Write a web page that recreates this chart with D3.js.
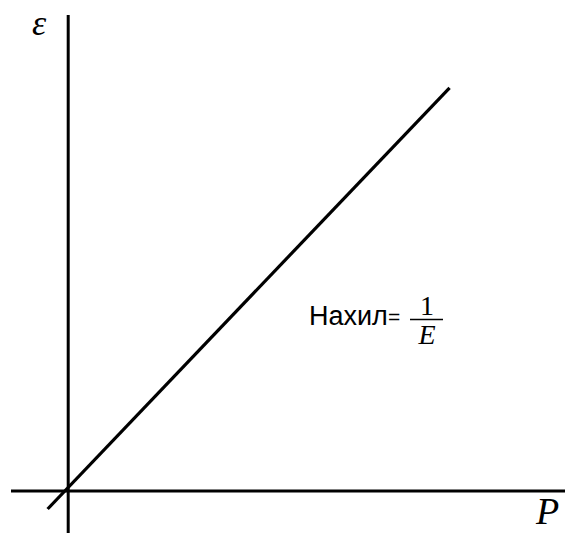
<!DOCTYPE html>
<html>
<head>
<meta charset="utf-8">
<script src="https://cdn.jsdelivr.net/npm/d3@7"></script>
<style>
  html, body { margin: 0; padding: 0; background: #fff; }
  svg { display: block; }
</style>
</head>
<body>
<script>
// Stress–strain relation: strain ε grows linearly with load P, slope 1/E
const lineP = [-0.54, 10.0];
const lineEps = [-0.45, 10.08];
const xAxisSpan = [-1.5, 13];
const yAxisSpan = [-1.05, 11.9];
const axisLabels = { x: "P", y: "ε" };
const slopeWord = "Нахил";
const slopeNum = "1";
const slopeDen = "E";

const W = 565, H = 533;
const svg = d3.select("body").append("svg").attr("width", W).attr("height", H);

const x = d3.scaleLinear().domain(xAxisSpan).range([11, 564]);
const y = d3.scaleLinear().domain(yAxisSpan).range([533, 15]);

// axes through the origin
svg.append("line")
  .attr("x1", x(xAxisSpan[0])).attr("x2", x(xAxisSpan[1]) + 2)
  .attr("y1", y(0)).attr("y2", y(0))
  .attr("stroke", "#000").attr("stroke-width", 3);
svg.append("line")
  .attr("x1", x(0)).attr("x2", x(0))
  .attr("y1", y(yAxisSpan[0])).attr("y2", y(yAxisSpan[1]))
  .attr("stroke", "#000").attr("stroke-width", 3);

// straight line
const pts = lineP.map((p, i) => [p, lineEps[i]]);
svg.append("path")
  .datum(pts)
  .attr("d", d3.line().x(d => x(d[0])).y(d => y(d[1])))
  .attr("fill", "none").attr("stroke", "#000").attr("stroke-width", 3.2);

// axis names
svg.append("text").attr("x", 32).attr("y", 35)
  .attr("font-family", "Liberation Serif, serif").attr("font-style", "italic")
  .attr("font-size", 36).text(axisLabels.y);
svg.append("text").attr("x", 536).attr("y", 524)
  .attr("font-family", "Liberation Serif, serif").attr("font-style", "italic")
  .attr("font-size", 38).text(axisLabels.x);

// slope annotation
const g = svg.append("g");
g.append("text").attr("x", 309).attr("y", 325)
  .attr("font-family", "Liberation Sans, Arial, sans-serif")
  .attr("font-size", 27).text(slopeWord);
g.append("text").attr("x", 388).attr("y", 324)
  .attr("font-family", "Liberation Sans, Arial, sans-serif")
  .attr("font-size", 21).text("=");
g.append("text").attr("x", 427).attr("y", 315).attr("text-anchor", "middle")
  .attr("font-family", "Liberation Serif, serif")
  .attr("font-size", 28).text(slopeNum);
g.append("line").attr("x1", 410).attr("x2", 443).attr("y1", 319.5).attr("y2", 319.5)
  .attr("stroke", "#000").attr("stroke-width", 1.6);
g.append("text").attr("x", 427).attr("y", 344).attr("text-anchor", "middle")
  .attr("font-family", "Liberation Serif, serif").attr("font-style", "italic")
  .attr("font-size", 28).text(slopeDen);
</script>
</body>
</html>
